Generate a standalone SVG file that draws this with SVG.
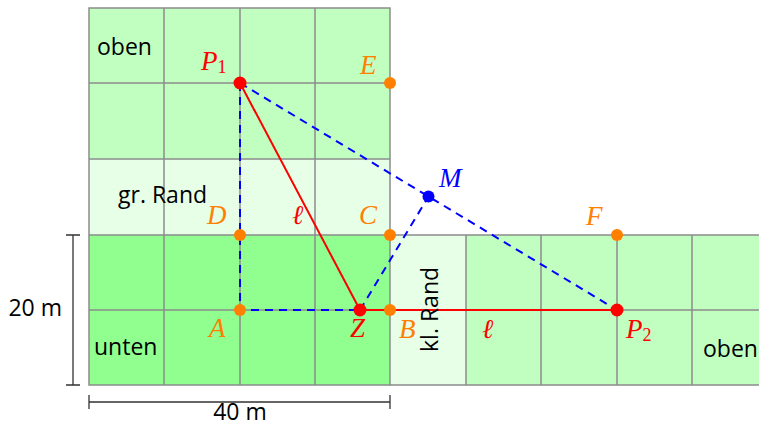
<svg xmlns="http://www.w3.org/2000/svg" width="759" height="428" viewBox="0 0 759 428">
<defs>
<style>
.lg{fill:#c0ffc0}
.pg{fill:#e6ffe6}
.bg{fill:#90ff90}
.grid{stroke:#8c8c8c;stroke-width:1.5;fill:none}
.dim{stroke:#333;stroke-width:1.3;fill:none}
.red{stroke:#ff0000;stroke-width:2;fill:none}
.blue{stroke:#0000ff;stroke-width:2;fill:none;stroke-dasharray:8,6}
.t{font-family:"Open Sans","Noto Sans",sans-serif;font-size:23px;fill:#000}
.m{font-family:"Liberation Serif","DejaVu Serif",serif;font-style:italic;font-size:27px}
.sub{font-family:"Liberation Serif","DejaVu Serif",serif;font-size:18px;font-style:normal}
.or{fill:#ff8000}
.rd{fill:#ff0000}
.bl{fill:#0000ff}
</style>
</defs>
<g id="areas">
<rect class="lg" x="89" y="8" width="301" height="151"/>
<rect class="pg" x="89" y="159" width="301" height="76"/>
<rect class="bg" x="89" y="235" width="301" height="150"/>
<rect class="pg" x="390" y="235" width="76" height="150"/>
<rect class="lg" x="466" y="235" width="300" height="150"/>
</g>
<g id="grid" class="grid">
<path d="M89,8H390V385H89Z"/>
<path d="M164,8V385M240,8V385M315,8V385"/>
<path d="M89,83H390M89,159H390M89,235H766M89,310H766M390,385H766"/>
<path d="M466,235V385M541,235V385M617,235V385M692,235V385"/>
</g>
<g id="dimensions" class="dim">
<path d="M73,235V385M66,235H80M66,385H80"/>
<path d="M89,402H390M89,395V409M390,395V409"/>
</g>
<g id="connectors">
<path class="blue" d="M240,83V310H360"/>
<path class="blue" d="M240,83L617,310"/>
<path class="blue" d="M360,310L428.5,196.5"/>
<path class="red" d="M240,83L360,310L617,310"/>
</g>
<g id="points">
<circle id="E" class="or" cx="390" cy="83" r="6"/>
<circle id="D" class="or" cx="240" cy="235" r="6"/>
<circle id="C" class="or" cx="390" cy="235" r="6"/>
<circle id="F" class="or" cx="617" cy="235" r="6"/>
<circle id="A" class="or" cx="240" cy="310" r="6"/>
<circle id="B" class="or" cx="390" cy="310" r="6"/>
<circle id="P1" class="rd" cx="240" cy="83" r="6.5"/>
<circle id="Z" class="rd" cx="360" cy="310" r="6.5"/>
<circle id="P2" class="rd" cx="617" cy="310" r="6.5"/>
<circle id="M" class="bl" cx="428.5" cy="196.5" r="6"/>
</g>
<g id="labels">
<text class="m rd" x="201" y="70">P<tspan class="sub" dy="3">1</tspan></text>
<text class="m or" x="360" y="74">E</text>
<text class="m or" x="207" y="224">D</text>
<text class="m rd" x="292" y="224">ℓ</text>
<text class="m or" x="359" y="224">C</text>
<text class="m bl" x="439" y="187">M</text>
<text class="m or" x="586" y="225">F</text>
<text class="m or" x="209" y="337">A</text>
<text class="m rd" x="350" y="337">Z</text>
<text class="m or" x="399" y="338">B</text>
<text class="m rd" x="482" y="338">ℓ</text>
<text class="m rd" x="626" y="338">P<tspan class="sub" dy="3">2</tspan></text>
<text class="t" x="97" y="55">oben</text>
<text class="t" x="118" y="203">gr. Rand</text>
<text class="t" x="94" y="355">unten</text>
<text class="t" x="703" y="357">oben</text>
<text class="t" transform="translate(438,352) rotate(-90)">kl. Rand</text>
<text class="t" x="62" y="316" text-anchor="end">20 m</text>
<text class="t" x="240" y="420" text-anchor="middle">40 m</text>
</g>
</svg>
